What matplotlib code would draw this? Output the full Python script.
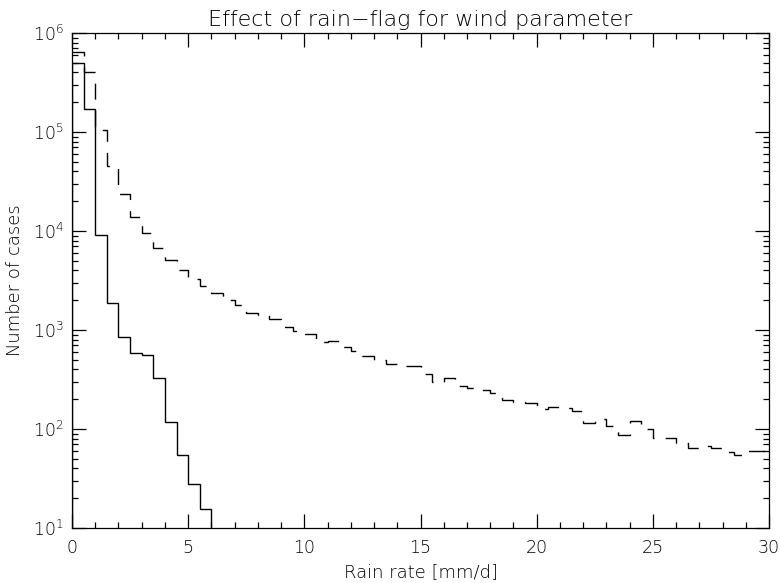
#!/usr/bin/env python3
"""Histogram of rain rate with and without the rain-flag for the wind parameter."""

import matplotlib

matplotlib.use("Agg")
import matplotlib.pyplot as plt
import numpy as np
from matplotlib.ticker import LogLocator, MultipleLocator, NullFormatter


BIN_WIDTH = 0.5  # mm/d
X_MAX = 30.0

# counts per 0.5 mm/d bin (dashed curve, 0 .. 30 mm/d)
unflagged_counts = [
    6.5e5, 4.0e5, 1.05e5, 4.5e4, 2.35e4, 1.38e4, 9.5e3, 6.7e3, 5.1e3, 4.0e3,
    3.3e3, 2.77e3, 2.35e3, 2.0e3, 1.8e3, 1.5e3, 1.42e3, 1.28e3, 1.07e3, 980,
    906, 765, 780, 680, 615, 546, 498, 454, 435, 428,
    360, 295, 325, 274, 258, 248, 233, 196, 189, 185,
    160, 168, 162, 152, 116, 126, 106, 86, 120, 100,
    82, 82, 72, 65, 68, 64, 59, 55, 60, 60,
]

# solid curve, only non-empty up to 6 mm/d
flagged_counts = [5.0e5, 1.7e5, 9.1e3, 1.87e3, 843, 582, 558, 331, 118, 54, 28, 15.5]

Y_MIN, Y_MAX = 10.0, 1.0e6


def make_plot() -> None:
    plt.rcParams["font.family"] = "DejaVu Sans"
    plt.rcParams["font.weight"] = "light"
    plt.rcParams["axes.titleweight"] = "light"
    plt.rcParams["axes.labelweight"] = "light"
    plt.rcParams["mathtext.default"] = "regular"

    fig = plt.figure(figsize=(7.8, 5.83), dpi=100)
    ax = fig.add_axes([72 / 780, 1 - 528 / 583, 697 / 780, 495 / 583])

    edges_all = np.arange(len(unflagged_counts) + 1) * BIN_WIDTH
    edges_flag = np.arange(len(flagged_counts) + 1) * BIN_WIDTH

    ax.stairs(
        unflagged_counts,
        edges_all,
        baseline=None,
        color="black",
        linewidth=1.0,
        linestyle=(0, (11.5, 8)),
    )
    ax.stairs(
        flagged_counts,
        edges_flag,
        baseline=Y_MIN,
        color="black",
        linewidth=1.0,
    )

    ax.set_yscale("log")
    ax.set_xlim(0, X_MAX)
    ax.set_ylim(Y_MIN, Y_MAX)

    ax.xaxis.set_major_locator(MultipleLocator(5))
    ax.xaxis.set_minor_locator(MultipleLocator(1))
    ax.yaxis.set_major_locator(LogLocator(base=10))
    ax.yaxis.set_minor_locator(LogLocator(base=10, subs=np.arange(2, 10)))
    ax.yaxis.set_minor_formatter(NullFormatter())

    ax.tick_params(which="both", direction="in", top=True, right=True, width=0.9)
    ax.tick_params(which="major", length=10, labelsize=12.5)
    ax.tick_params(which="minor", length=4.5)
    ax.tick_params(axis="x", which="major", pad=8)
    ax.tick_params(axis="y", which="major", pad=6)
    for spine in ax.spines.values():
        spine.set_linewidth(0.9)

    ax.set_title("Effect of rain\u2212flag for wind parameter", fontsize=16, pad=5)
    ax.set_xlabel("Rain rate [mm/d]", fontsize=13, labelpad=4)
    ax.set_ylabel("Number of cases", fontsize=13, labelpad=6)

    fig.savefig("out.png", dpi=100)
    plt.close(fig)


if __name__ == "__main__":
    make_plot()
